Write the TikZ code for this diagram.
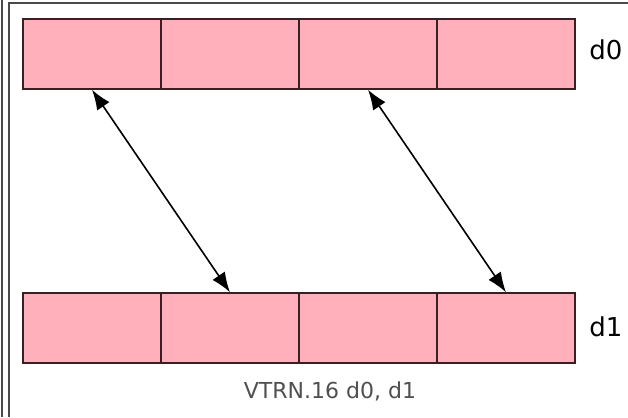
\documentclass[tikz,border=0pt]{standalone}
\usepackage{fontspec}
\setmainfont{DejaVu Sans}
\usetikzlibrary{arrows.meta}
\definecolor{cellPink}{HTML}{FFB0BA}
\definecolor{cellEdge}{HTML}{3A1F22}
\definecolor{frameGray}{HTML}{4A4A4A}
\definecolor{captionGray}{HTML}{505050}

\tikzset{
    cell/.style={draw=cellEdge, line width=1.4pt, fill=cellPink, minimum width=138pt, minimum height=70pt, inner sep=0pt},
    reglabel/.style={font=\fontsize{26}{30}\selectfont},
    lanearrow/.style={line width=1.6pt, {Latex[length=20pt,width=15pt]}-{Latex[length=20pt,width=15pt]}}
}

\begin{document}
\begin{tikzpicture}[x=1pt, y=-1pt]
    \useasboundingbox (0,0) rectangle (628,417);
    \fill[white] (0,0) rectangle (628,417);

    % Frame
    \draw[frameGray, line width=1.4pt] (9,417) -- (9,3) -- (628,3);
    \draw[frameGray, line width=1.4pt] (2,0) -- (2,417);

    % Top row - d0
    \node[cell] (t1) at (92,54) {};
    \node[cell] (t2) at (230,54) {};
    \node[cell] (t3) at (368,54) {};
    \node[cell] (t4) at (506,54) {};
    \node[reglabel] (d0) at (606,50) {d0};

    % Bottom row - d1
    \node[cell] (b1) at (92,328) {};
    \node[cell] (b2) at (230,328) {};
    \node[cell] (b3) at (368,328) {};
    \node[cell] (b4) at (506,328) {};
    \node[reglabel] (d1) at (606,327) {d1};

    % Swapped lanes
    \draw[lanearrow] (t1.south) -- (b2.north);
    \draw[lanearrow] (t3.south) -- (b4.north);

    \node[captionGray, font=\fontsize{22}{26}\selectfont] (caption) at (330,391) {VTRN.16 d0, d1};
\end{tikzpicture}
\end{document}
